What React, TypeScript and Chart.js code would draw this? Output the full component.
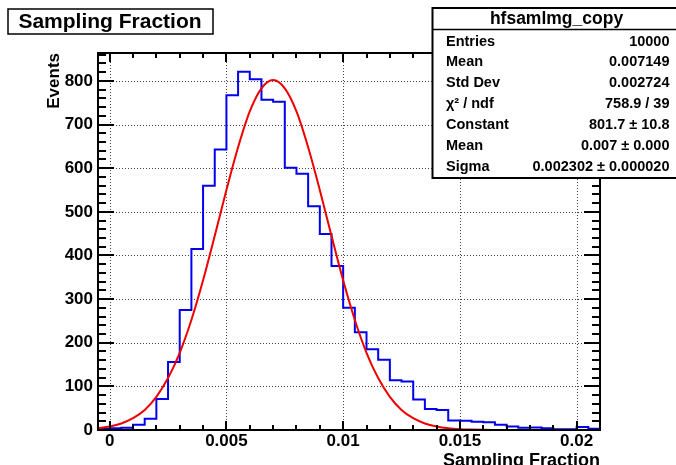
import React, { useEffect, useRef } from "react";
import { Chart, registerables } from "chart.js";

Chart.register(...registerables);

const FONT = "'Liberation Sans', Arial, Helvetica, sans-serif";

// Histogram: bins of width 0.0005 starting at -0.0005
const BIN_START = -0.0005;
const BIN_WIDTH = 0.0005;
const HIST_COUNTS = [
  3, 4, 5, 12, 26, 71, 156, 275, 415, 560, 643, 767, 821, 804, 757, 752, 601, 587,
  513, 449, 376, 280, 224, 185, 161, 114, 111, 70, 48, 46, 22, 21, 19, 18, 12, 8, 5,
  6, 4, 2, 2, 7, 3,
];

// Fitted gaussian curve, read at steps of 0.0005 starting at -0.0005
const FIT_X_START = -0.0005;
const FIT_STEP = 0.0005;
const FIT_VALUES = [
  4, 8, 15, 27, 46, 76, 119, 177, 252, 343, 445, 550, 648, 730, 783, 802, 783, 730,
  648, 550, 445, 343, 252, 177, 119, 76, 46, 27, 15, 8, 4, 2, 1, 0.4, 0.2, 0.1, 0, 0,
  0, 0, 0, 0, 0, 0,
];

const X_MIN = -0.0005;
const X_MAX = 0.021;
const Y_MIN = 0;
const Y_MAX = 864;

const X_TICKS = [0, 0.005, 0.01, 0.015, 0.02];
const X_TICK_LABELS = ["0", "0.005", "0.01", "0.015", "0.02"];
const X_MINOR_STEP = 0.001;
const Y_TICKS = [0, 100, 200, 300, 400, 500, 600, 700, 800];
const Y_TICK_LABELS = ["0", "100", "200", "300", "400", "500", "600", "700", "800"];
const Y_MINOR_STEP = 20;

const TITLE = "Sampling Fraction";
const X_TITLE = "Sampling Fraction";
const Y_TITLE = "Events";

const STATS_NAME = "hfsamlmg_copy";
const STATS_LABELS = ["Entries", "Mean", "Std Dev", "\u03C7\u00B2 / ndf", "Constant", "Mean", "Sigma"];
const STATS_VALUES = [
  "10000",
  "0.007149",
  "0.002724",
  "758.9 / 39",
  "801.7 \u00B1 10.8",
  "0.007 \u00B1 0.000",
  "0.002302 \u00B1 0.000020",
];

const rootPlugin = {
  id: "rootStyle",
  beforeDatasetsDraw(chart: any) {
    const { ctx, chartArea: a, scales } = chart;
    const x = scales.x;
    const y = scales.y;
    ctx.save();
    ctx.strokeStyle = "#444";
    ctx.lineWidth = 1;
    ctx.setLineDash([1, 2]);
    for (const v of X_TICKS) {
      const px = Math.round(x.getPixelForValue(v)) + 0.5;
      ctx.beginPath();
      ctx.moveTo(px, a.top);
      ctx.lineTo(px, a.bottom);
      ctx.stroke();
    }
    for (const v of Y_TICKS) {
      if (v === 0) continue;
      const py = Math.round(y.getPixelForValue(v)) + 0.5;
      ctx.beginPath();
      ctx.moveTo(a.left, py);
      ctx.lineTo(a.right, py);
      ctx.stroke();
    }
    ctx.restore();
  },
  afterDraw(chart: any) {
    const { ctx, chartArea: a, scales } = chart;
    const x = scales.x;
    const y = scales.y;
    ctx.save();
    ctx.setLineDash([]);
    ctx.strokeStyle = "#000";
    ctx.lineWidth = 2;
    // y ticks (left and right)
    const nY = Math.floor(Y_MAX / Y_MINOR_STEP);
    for (let k = 0; k <= nY; k++) {
      const v = k * Y_MINOR_STEP;
      const len = v % 100 === 0 ? 16 : 8;
      const py = Math.round(y.getPixelForValue(v));
      ctx.beginPath();
      ctx.moveTo(a.left, py);
      ctx.lineTo(a.left + len, py);
      ctx.moveTo(a.right, py);
      ctx.lineTo(a.right - len, py);
      ctx.stroke();
    }
    // x ticks (bottom and top)
    const nX = Math.floor(X_MAX / X_MINOR_STEP + 1e-9);
    for (let k = 0; k <= nX; k++) {
      const v = k * X_MINOR_STEP;
      const len = k % 5 === 0 ? 9 : 5;
      const px = Math.round(x.getPixelForValue(v));
      ctx.beginPath();
      ctx.moveTo(px, a.bottom);
      ctx.lineTo(px, a.bottom - len);
      ctx.moveTo(px, a.top);
      ctx.lineTo(px, a.top + len);
      ctx.stroke();
    }
    // frame
    ctx.strokeRect(a.left, a.top, a.right - a.left, a.bottom - a.top);

    // axis titles
    ctx.fillStyle = "#000";
    ctx.font = `bold 18px ${FONT}`;
    ctx.textAlign = "right";
    ctx.textBaseline = "alphabetic";
    ctx.fillText(X_TITLE, a.right, 466);

    ctx.save();
    ctx.translate(54, a.top);
    ctx.rotate(-Math.PI / 2);
    ctx.font = `bold 17px ${FONT}`;
    ctx.textAlign = "right";
    ctx.textBaseline = "middle";
    ctx.fillText(Y_TITLE, 0, 0);
    ctx.restore();

    // title box
    ctx.fillStyle = "#fff";
    ctx.fillRect(8, 9, 205, 25);
    ctx.lineWidth = 1.5;
    ctx.strokeRect(8, 9, 205, 25);
    ctx.fillStyle = "#000";
    ctx.font = `bold 21px ${FONT}`;
    ctx.textAlign = "center";
    ctx.textBaseline = "alphabetic";
    ctx.fillText(TITLE, 110, 28);

    // stats box
    const bx = 432.5;
    const by = 8;
    const bw = 250;
    const bh = 170;
    ctx.fillStyle = "#fff";
    ctx.fillRect(bx, by, bw, bh);
    ctx.lineWidth = 2;
    ctx.strokeRect(bx, by, bw, bh);
    ctx.lineWidth = 1.5;
    ctx.beginPath();
    ctx.moveTo(bx, 29.5);
    ctx.lineTo(bx + bw, 29.5);
    ctx.stroke();
    ctx.fillStyle = "#000";
    ctx.font = `bold 17.5px ${FONT}`;
    ctx.textAlign = "center";
    ctx.textBaseline = "middle";
    ctx.fillText(STATS_NAME, 556.5, 19);
    ctx.font = `bold 14.5px ${FONT}`;
    for (let i = 0; i < STATS_LABELS.length; i++) {
      const ry = 41.5 + i * 20.9;
      ctx.textAlign = "left";
      ctx.fillText(STATS_LABELS[i], 446, ry);
      ctx.textAlign = "right";
      ctx.fillText(STATS_VALUES[i], 669.5, ry);
    }
    ctx.restore();
  },
};

export default function App() {
  const ref = useRef<HTMLCanvasElement>(null);

  useEffect(() => {
    document.body.style.margin = "0";
    const canvas = ref.current;
    if (!canvas) return;

    const histData = HIST_COUNTS.map((v, i) => ({ x: BIN_START + i * BIN_WIDTH, y: v }));
    histData.push({
      x: BIN_START + HIST_COUNTS.length * BIN_WIDTH,
      y: HIST_COUNTS[HIST_COUNTS.length - 1],
    });
    const fitData = FIT_VALUES.map((v, i) => ({ x: FIT_X_START + i * FIT_STEP, y: v }));

    const tickFont = { family: FONT, size: 17, weight: "bold" as const, lineHeight: 1 };

    const chart = new Chart(canvas, {
      type: "line",
      data: {
        datasets: [
          {
            data: fitData,
            borderColor: "#ee0000",
            borderWidth: 2,
            pointRadius: 0,
            cubicInterpolationMode: "monotone",
            fill: false,
          },
          {
            data: histData,
            borderColor: "#0000ee",
            borderWidth: 2,
            pointRadius: 0,
            stepped: true,
            fill: false,
          },
        ],
      },
      options: {
        responsive: false,
        animation: false,
        devicePixelRatio: 1,
        layout: { padding: { left: 0, right: 76, top: 53, bottom: 0 } },
        plugins: {
          legend: { display: false },
          tooltip: { enabled: false },
          title: { display: false },
        },
        scales: {
          x: {
            type: "linear",
            min: X_MIN,
            max: X_MAX,
            grid: { display: false, drawTicks: false },
            border: { display: false },
            afterBuildTicks: (s: any) => {
              s.ticks = X_TICKS.map((v) => ({ value: v }));
            },
            afterFit: (s: any) => {
              s.height = 35;
            },
            ticks: {
              includeBounds: false,
              autoSkip: false,
              maxRotation: 0,
              padding: 3,
              color: "#000",
              font: tickFont,
              callback: (_v: any, i: number) => X_TICK_LABELS[i],
            },
          },
          y: {
            type: "linear",
            min: Y_MIN,
            max: Y_MAX,
            grid: { display: false, drawTicks: false },
            border: { display: false },
            afterBuildTicks: (s: any) => {
              s.ticks = Y_TICKS.map((v) => ({ value: v }));
            },
            afterFit: (s: any) => {
              s.width = 98;
            },
            ticks: {
              includeBounds: false,
              autoSkip: false,
              padding: 5,
              color: "#000",
              font: tickFont,
              callback: (_v: any, i: number) => Y_TICK_LABELS[i],
            },
          },
        },
      } as any,
      plugins: [rootPlugin],
    });

    return () => chart.destroy();
  }, []);

  return (
    <canvas
      ref={ref}
      width={676}
      height={465}
      style={{ display: "block", width: 676, height: 465 }}
    />
  );
}
